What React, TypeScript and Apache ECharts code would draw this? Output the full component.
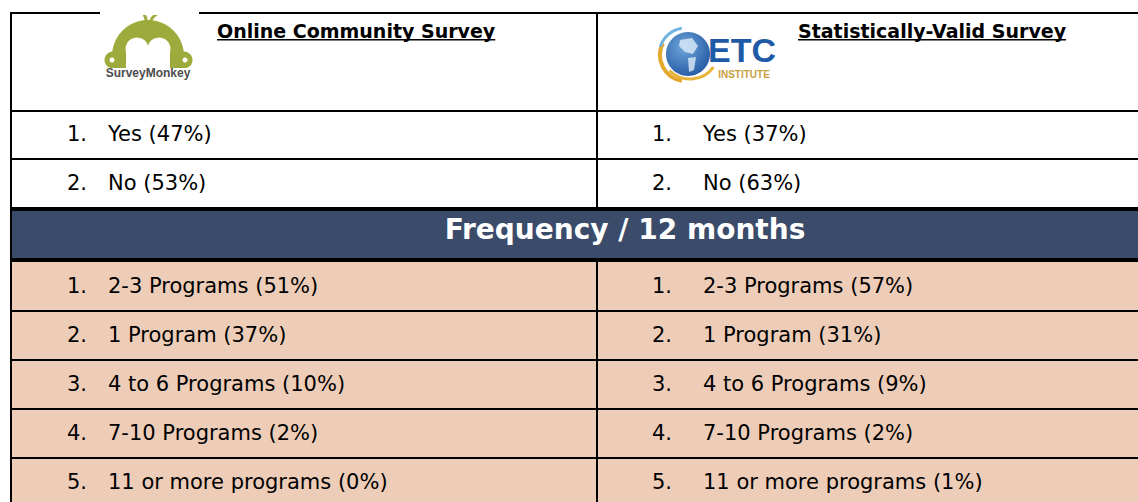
import React, { useEffect, useRef } from 'react';
import * as echarts from 'echarts';

// ---- data ----
const surveyTitles = ['Online Community Survey', 'Statistically-Valid Survey'];
const participationLabels = ['Yes', 'No'];
const onlineParticipation = [47, 53];
const etcParticipation = [37, 63];
const sectionTitle = 'Frequency / 12 months';
const frequencyLabels = ['2-3 Programs', '1 Program', '4 to 6 Programs', '7-10 Programs', '11 or more programs'];
const onlineFrequency = [51, 37, 10, 2, 0];
const etcFrequency = [57, 31, 9, 2, 1];

const FONT = '"DejaVu Sans", Verdana, sans-serif';
const BODY_SIZE = 21;
const TITLE_SIZE = 19;
const HEAD_SIZE = 28;
const PEACH = '#EECDB8';
const NAVY = '#3B4B6A';
const OLIVE = '#9CAB3B';

function measure(text: string, font: string): number {
  const ctx = document.createElement('canvas').getContext('2d');
  if (!ctx) return text.length * 10;
  ctx.font = font;
  return ctx.measureText(text).width;
}

function buildGraphics() {
  const els: any[] = [];
  const X0 = 10, XM = 596, X1 = 1150;
  const rect = (x: number, y: number, w: number, h: number, fill: string, z = 1) =>
    els.push({ type: 'rect', z, shape: { x, y, width: w, height: h }, style: { fill } });
  const text = (t: string, x: number, y: number, size: number, opts: any = {}) =>
    els.push({
      type: 'text', z: 5, x, y,
      style: {
        text: t, fill: opts.fill || '#000',
        font: `${opts.bold ? 'bold ' : ''}${size}px ${opts.family || FONT}`,
        align: opts.align || 'left', verticalAlign: 'middle',
      },
    });

  // backgrounds
  rect(0, 0, 1138, 502, '#ffffff', 0);
  const peachTop = 262;
  const peachRows = [262, 311, 360, 409, 458, 507];
  rect(X0, peachTop, X1 - X0, 502 - peachTop, PEACH, 0);
  rect(X0, 207, X1 - X0, 4, '#000', 2);
  rect(X0, 211, X1 - X0, 47, NAVY, 1);
  rect(X0, 258, X1 - X0, 4, '#000', 2);

  // grid lines
  rect(X0, 12, X1 - X0, 2, '#000', 2);
  rect(X0, 110, X1 - X0, 2, '#000', 2);
  rect(X0, 158, X1 - X0, 2, '#000', 2);
  for (let i = 1; i < peachRows.length - 1; i++) rect(X0, peachRows[i] - 1, X1 - X0, 2, '#000', 2);
  rect(X0, 12, 2, 490, '#000', 2);
  rect(XM, 12, 2, 195, '#000', 2);
  rect(XM, 262, 2, 240, '#000', 2);

  // titles with underline
  const titleX = [217, 798];
  surveyTitles.forEach((t, i) => {
    const f = `bold ${TITLE_SIZE}px ${FONT}`;
    text(t, titleX[i], 31, TITLE_SIZE, { bold: true });
    rect(titleX[i], 39, measure(t, f), 1.6, '#000', 5);
  });

  // participation rows
  const yesNoRows = [110, 158, 207];
  const colNumX = [67, 652];
  const colLabelX = [108, 703];
  [onlineParticipation, etcParticipation].forEach((vals, c) => {
    vals.forEach((v, r) => {
      const cy = (yesNoRows[r] + yesNoRows[r + 1]) / 2;
      text(`${r + 1}.`, colNumX[c], cy, BODY_SIZE);
      text(`${participationLabels[r]} (${v}%)`, colLabelX[c], cy, BODY_SIZE);
    });
  });

  // section header
  text(sectionTitle, 625, 229, HEAD_SIZE, { bold: true, fill: '#ffffff', align: 'center' });

  // frequency rows
  [onlineFrequency, etcFrequency].forEach((vals, c) => {
    vals.forEach((v, r) => {
      const cy = (peachRows[r] + peachRows[r + 1]) / 2 - 1;
      text(`${r + 1}.`, colNumX[c], cy, BODY_SIZE);
      text(`${frequencyLabels[r]} (${v}%)`, colLabelX[c], cy, BODY_SIZE);
    });
  });

  // ---- SurveyMonkey logo ----
  rect(100, 10, 99, 5, '#ffffff', 3);
  const mk: any[] = [];
  mk.push({ type: 'bezierCurve', shape: { x1: 147, y1: 24, x2: 143, y2: 12, cpx1: 146, cpy1: 17 }, style: { stroke: OLIVE, lineWidth: 3, fill: null } });
  mk.push({ type: 'bezierCurve', shape: { x1: 150, y1: 24, x2: 157, y2: 14, cpx1: 151, cpy1: 17 }, style: { stroke: OLIVE, lineWidth: 3, fill: null } });
  mk.push({ type: 'circle', shape: { cx: 148, cy: 56, r: 36 }, style: { fill: OLIVE } });
  mk.push({ type: 'circle', shape: { cx: 113, cy: 60, r: 8.5 }, style: { fill: OLIVE } });
  mk.push({ type: 'circle', shape: { cx: 184, cy: 60, r: 8.5 }, style: { fill: OLIVE } });
  mk.push({ type: 'circle', shape: { cx: 112, cy: 60, r: 2.5 }, style: { fill: '#fff' } });
  mk.push({ type: 'circle', shape: { cx: 185, cy: 60, r: 2.5 }, style: { fill: '#fff' } });
  mk.push({ type: 'circle', shape: { cx: 137, cy: 49, r: 11.5 }, style: { fill: '#fff' } });
  mk.push({ type: 'circle', shape: { cx: 159, cy: 49, r: 11.5 }, style: { fill: '#fff' } });
  mk.push({ type: 'rect', shape: { x: 126, y: 50, width: 44, height: 20 }, style: { fill: '#fff' } });
  mk.push({ type: 'rect', shape: { x: 100, y: 68, width: 100, height: 30 }, style: { fill: '#fff' } });
  mk.push({ type: 'text', x: 148, y: 73, style: { text: 'SurveyMonkey', fill: '#4d4d4d', font: 'bold 12px "Liberation Sans", Arial, sans-serif', align: 'center', verticalAlign: 'middle' } });
  els.push({ type: 'group', z: 4, children: mk });

  // ---- ETC Institute logo ----
  const etc: any[] = [];
  etc.push({ type: 'arc', shape: { cx: 686, cy: 55, r: 26, startAngle: Math.PI * 0.55, endAngle: Math.PI * 1.15 }, style: { stroke: '#E3A92E', lineWidth: 4, fill: null } });
  etc.push({ type: 'arc', shape: { cx: 686, cy: 55, r: 27, startAngle: Math.PI * 1.1, endAngle: Math.PI * 1.45 }, style: { stroke: '#6FB3E0', lineWidth: 3, fill: null } });
  etc.push({ type: 'circle', shape: { cx: 688, cy: 54, r: 22 }, style: { fill: new echarts.graphic.RadialGradient(0.4, 0.35, 0.8, [{ offset: 0, color: '#6EA6DA' }, { offset: 1, color: '#1B4E9B' }]) } });
  etc.push({ type: 'polygon', shape: { points: [[680, 40], [692, 38], [698, 46], [693, 54], [685, 52], [679, 46]] }, style: { fill: '#DDEBF7', opacity: 0.8 } });
  etc.push({ type: 'polygon', shape: { points: [[688, 58], [696, 57], [694, 70], [689, 72]] }, style: { fill: '#DDEBF7', opacity: 0.8 } });
  etc.push({ type: 'arc', shape: { cx: 690, cy: 50, r: 29, startAngle: Math.PI * 0.2, endAngle: Math.PI * 0.75 }, style: { stroke: '#E8B33A', lineWidth: 3, fill: null } });
  etc.push({ type: 'text', x: 708, y: 50, style: { text: 'ETC', fill: '#1F5AA6', font: 'bold 34px "Liberation Sans", Arial, sans-serif', align: 'left', verticalAlign: 'middle' } });
  etc.push({ type: 'text', x: 744, y: 74, style: { text: 'INSTITUTE', fill: '#C79E3E', font: 'bold 10px "Liberation Sans", Arial, sans-serif', align: 'center', verticalAlign: 'middle' } });
  els.push({ type: 'group', z: 4, children: etc });

  return els;
}

export default function App() {
  const ref = useRef<HTMLDivElement>(null);
  useEffect(() => {
    if (!ref.current) return;
    const chart = echarts.init(ref.current, undefined, { renderer: 'svg' });
    chart.setOption({ animation: false, graphic: { elements: buildGraphics() } });
    return () => chart.dispose();
  }, []);
  return <div ref={ref} style={{ position: 'absolute', left: 0, top: 0, width: 1138, height: 502, background: '#fff' }} />;
}
